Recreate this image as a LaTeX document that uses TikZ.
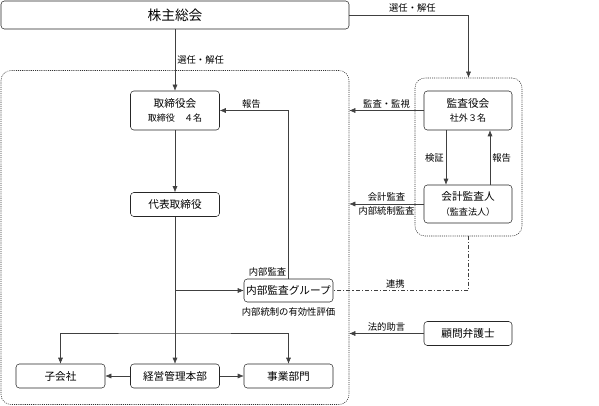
\documentclass[tikz,border=0pt]{standalone}
\usepackage{fontspec}
\setmainfont{Noto Sans CJK JP}
\usetikzlibrary{arrows, arrows.meta, positioning}

\tikzset{
  box/.style={draw=black!85, rounded corners=2.5pt, inner sep=0, minimum width=66.75pt, minimum height=18pt, align=center, font=\fontsize{8}{10}\selectfont},
  tallbox/.style={box, minimum height=29.25pt},
  frame/.style={draw=black!80, dash pattern=on 0.8pt off 0.8pt, rounded corners=7.5pt, inner sep=0},
  lbl/.style={font=\fontsize{7}{8}\selectfont, inner sep=1.5pt},
  conn/.style={draw=black!75, ->},
}
\newcommand{\sub}[1]{{\fontsize{6.8}{8}\selectfont #1}}

\begin{document}
\begin{tikzpicture}[>={Latex[length=4.5pt, width=3.8pt]}, x=0.75pt, y=-0.75pt]
\useasboundingbox (0,0) rectangle (599,406);

\node[frame, minimum width=261pt, minimum height=250.5pt] (naibu) at (175,237.5) {};
\node[frame, minimum width=80.25pt, minimum height=118.5pt] (kansa) at (468.5,157) {};

\node[box, minimum width=261pt, minimum height=21pt, font=\fontsize{10.3}{12}\selectfont] (soukai) at (175,15) {株主総会};
\node[tallbox] (torishimari) at (175,110.5) {取締役会\\[1pt]\sub{取締役　４名}};
\node[box] (daihyo) at (175,204.5) {代表取締役};
\node[box, minimum height=17.25pt] (naibukansa) at (288.5,290.5) {内部監査グループ};
\node[lbl, below=2pt of naibukansa] (hyouka) {内部統制の有効性評価};
\node[box] (kogaisha) at (60.5,376) {子会社};
\node[box] (keiei) at (175,376) {経営管理本部};
\node[box] (jigyo) at (288.5,376) {事業部門};
\node[tallbox, minimum width=66pt] (kansayaku) at (468,110.5) {監査役会\\[1pt]\sub{社外３名}};
\node[tallbox, minimum width=66pt, minimum height=28.5pt] (kaikei) at (468,204) {会計監査人\\[1pt]\sub{（監査法人）}};
\node[box, minimum width=66pt] (bengoshi) at (468,333.5) {顧問弁護士};
\coordinate (fork) at (175,333);

\draw[conn] (soukai) -- (torishimari) node[lbl, midway, right] {選任・解任};
\draw[conn] (soukai.east) -| (kansa.north) node[lbl, pos=0.265, above] {選任・解任};
\draw[conn] (torishimari) -- (daihyo);
\draw[conn] (daihyo) -- (keiei);
\draw[conn] (daihyo.south |- naibukansa.west) -- (naibukansa.west);
\draw[conn, <->] (kogaisha.north) |- (fork) -| (jigyo.north);
\draw[conn] (keiei) -- (kogaisha);
\draw[conn] (keiei) -- (jigyo);
\draw[conn] (naibukansa.north) node[lbl, above left] {内部監査} |- (torishimari.east) node[lbl, pos=0.77, above] {報告};

\draw[conn] (kansayaku.west) -- (kansayaku.west -| naibu.east) node[lbl, midway, above] {監査・監視};
\draw[conn] (kaikei.west) -- (kaikei.west -| naibu.east) node[lbl, midway, above] {会計監査} node[lbl, midway, below] {内部統制監査};
\draw[conn] (bengoshi.west) -- (bengoshi.west -| naibu.east) node[lbl, midway, above] {法的助言};
\draw[conn] ([xshift=-16.5pt]kansayaku.south) -- ([xshift=-16.5pt]kaikei.north) node[lbl, midway, left] {検証};
\draw[conn] ([xshift=16.5pt]kaikei.north) -- ([xshift=16.5pt]kansayaku.south) node[lbl, midway, right] {報告};
\draw[draw=black!75, dash pattern=on 3pt off 1.5pt on 0.8pt off 1.5pt] (kansa.south) |- (naibukansa.east) node[lbl, pos=0.77, above] {連携};
\end{tikzpicture}
\end{document}
